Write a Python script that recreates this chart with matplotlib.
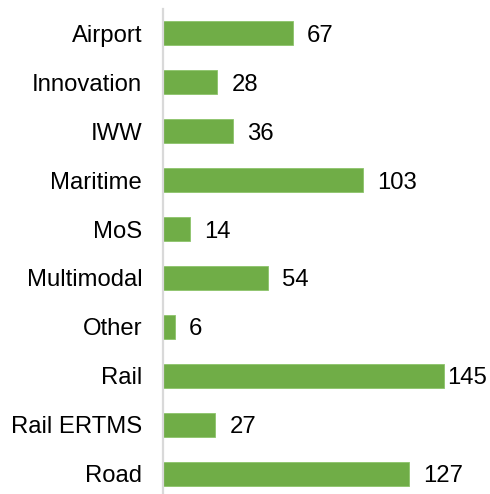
import matplotlib.pyplot as plt

# categories and counts, top to bottom as shown
categories = ["Airport", "Innovation", "IWW", "Maritime", "MoS",
              "Multimodal", "Other", "Rail", "Rail ERTMS", "Road"]
values = [67, 28, 36, 103, 14, 54, 6, 145, 27, 127]

plt.rcParams['font.family'] = ['Liberation Sans', 'DejaVu Sans']

W, H = 490, 494
fig = plt.figure(figsize=(W / 100, H / 100), dpi=100)
ax = fig.add_axes([163 / W, -4 / H, 317 / W, 489 / H])

pos = list(range(len(categories)))
ax.barh(pos, values, height=0.49, color="#70AD47", edgecolor="#8cc46a", linewidth=0.6)
ax.set_xlim(0, 163.5)
ax.set_ylim(len(categories) - 0.5, -0.5)

ax.set_yticks(pos)
ax.set_yticklabels(categories, fontsize=17.2, va="center_baseline")
ax.tick_params(axis='y', length=0, pad=15)
ax.set_xticks([])

for side in ["top", "right", "bottom"]:
    ax.spines[side].set_visible(False)
ax.spines["left"].set_color("#d9d9d9")
ax.spines["left"].set_linewidth(1.6)

# labels just past the bar end, pulled back if they would leave the figure
units_per_px = 163.5 / 317
gap = 14 * units_per_px
right_limit = (W - 4 - 163) * units_per_px
for p, v in zip(pos, values):
    txt_w = len(str(v)) * 13 * units_per_px
    x = min(v + gap, right_limit - txt_w)
    x = max(x, v + 1.5 * units_per_px)
    ax.text(x, p, str(v), va="center_baseline", ha="left", fontsize=17.2, clip_on=False)

fig.savefig("out.png", dpi=100)
